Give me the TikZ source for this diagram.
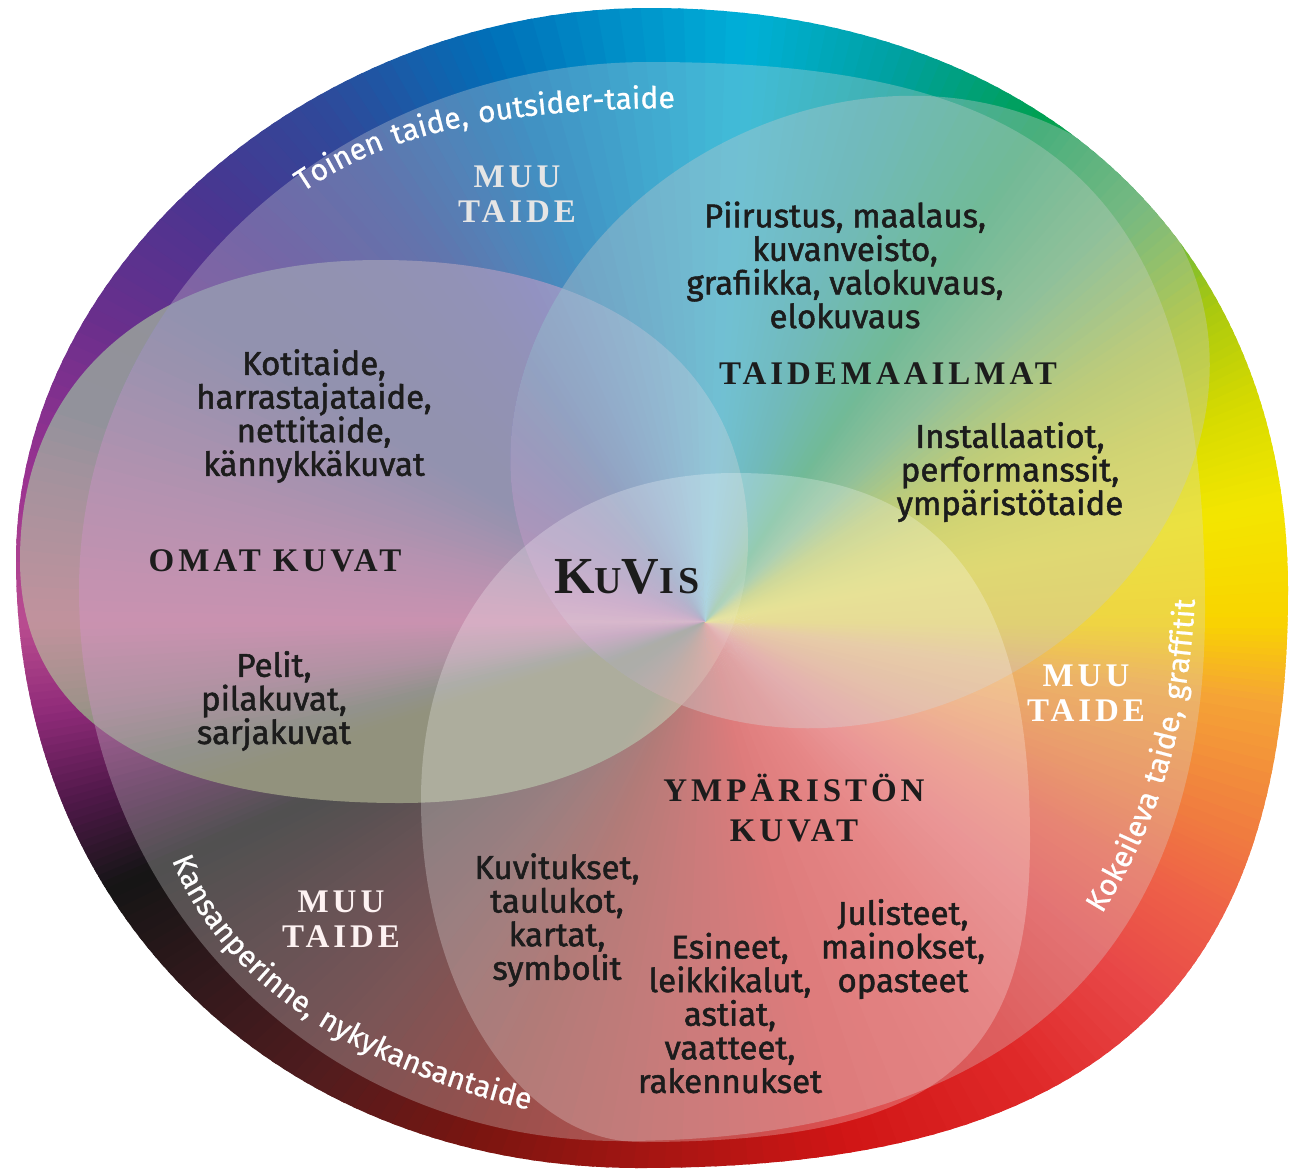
\documentclass[tikz,border=0pt]{standalone}
\usepackage{fontspec}
\setmainfont{Fira Sans}[FakeBold=1.5]
\newfontfamily\headfont{Liberation Serif}[LetterSpace=12]
\newfontfamily\rimfont{Fira Sans}[LetterSpace=8, FakeBold=0.8]
\usetikzlibrary{decorations.text}

\definecolor{ink}{HTML}{1C1C1C}
\definecolor{omatgrey}{HTML}{84846C}
\definecolor{veil}{HTML}{DADADA}
\definecolor{taideveil}{HTML}{C8CACC}
\definecolor{w0}{HTML}{F9D400}
\definecolor{w12}{HTML}{F3E600}
\definecolor{w22}{HTML}{D6DA00}
\definecolor{w32}{HTML}{A8C810}
\definecolor{w44}{HTML}{48B058}
\definecolor{w56}{HTML}{00A050}
\definecolor{w71}{HTML}{00A0A0}
\definecolor{w86}{HTML}{00B0D8}
\definecolor{w110}{HTML}{0070B8}
\definecolor{w126}{HTML}{2E4A9A}
\definecolor{w140}{HTML}{4A3590}
\definecolor{w154}{HTML}{6B2F8C}
\definecolor{w168}{HTML}{9A3290}
\definecolor{w180}{HTML}{BA4C90}
\definecolor{w188}{HTML}{8E2A78}
\definecolor{w196}{HTML}{4E1848}
\definecolor{w204}{HTML}{151515}
\definecolor{w216}{HTML}{33191C}
\definecolor{w230}{HTML}{521C1E}
\definecolor{w246}{HTML}{7A1510}
\definecolor{w264}{HTML}{A51512}
\definecolor{w285}{HTML}{D01515}
\definecolor{w306}{HTML}{E02A2A}
\definecolor{w320}{HTML}{E84848}
\definecolor{w330}{HTML}{EE6048}
\definecolor{w338}{HTML}{F07A40}
\definecolor{w352}{HTML}{F5A535}

\tikzset{
  wheeltext/.style={font=\fontsize{16.5}{16.8}\selectfont, text=ink, align=center, inner sep=0pt},
  areaname/.style={font=\headfont\bfseries\fontsize{16.5}{17.5}\selectfont, text=ink, align=center, inner sep=0pt},
  otherart/.style={areaname, text=#1},
  rimtext/.style={decorate, decoration={text along path, text color=white,
    text={|\rimfont\fontsize{15}{15}\selectfont|#1}}}
}

\begin{document}
\begin{tikzpicture}[x=0.5pt, y=-0.5pt]
\useasboundingbox (0,0) rectangle (1297,1174);
\coordinate (hub) at (705,622);

\begin{scope}
  \clip (650,8) .. controls (1033,8) and (1288,241) .. (1288,590)
    .. controls (1288,995) and (1094,1168) .. (640,1168)
    .. controls (278,1168) and (16,913) .. (16,560)
    .. controls (16,267) and (314,8) .. (650,8) -- cycle;
  \foreach \a/\b/\ca/\cb in {0/12/w0/w12, 12/22/w12/w22, 22/32/w22/w32, 32/44/w32/w44,
      44/56/w44/w56, 56/71/w56/w71, 71/86/w71/w86, 86/110/w86/w110, 110/126/w110/w126,
      126/140/w126/w140, 140/154/w140/w154, 154/168/w154/w168, 168/180/w168/w180,
      180/188/w180/w188, 188/196/w188/w196, 196/204/w196/w204, 204/216/w204/w216,
      216/230/w216/w230, 230/246/w230/w246, 246/264/w246/w264, 264/285/w264/w285,
      285/306/w285/w306, 306/320/w306/w320, 320/330/w320/w330, 330/338/w330/w338,
      338/352/w338/w352, 352/360/w352/w0} {
    \foreach \s in {0,...,11} {
      \pgfmathsetmacro\p{\a+(\b-\a)*\s/12}
      \pgfmathsetmacro\q{\a+(\b-\a)*(\s+1)/12+0.5}
      \pgfmathtruncatemacro\m{(\s+0.5)*100/12}
      \fill[\cb!\m!\ca] (hub) -- +(-\p:1400) -- +(-\q:1400) -- cycle;
    }
  }
  % inner band
  \fill[veil, fill opacity=0.3] (650,62) .. controls (1066,62) and (1205,199) .. (1205,610)
    .. controls (1205,960) and (1006,1141) .. (620,1141)
    .. controls (317,1141) and (79,899) .. (79,590)
    .. controls (79,300) and (336,62) .. (650,62) -- cycle;
  % taidemaailmat
  \fill[taideveil, fill opacity=0.36, shift={(860,412)}, rotate=28]
    (0,0) ellipse [x radius=362, y radius=302];
  % omat kuvat
  \path[save path=\omatline] (380,260) .. controls (608,260) and (748,366) .. (748,540)
    .. controls (748,698) and (609,803) .. (400,803)
    .. controls (153,803) and (20,718) .. (20,560)
    .. controls (20,374) and (157,260) .. (380,260) -- cycle;
  \fill[omatgrey, blend mode=lighten, use path=\omatline];
  \fill[white, fill opacity=0.12, use path=\omatline];
  % ympariston kuvat
  \fill[white, fill opacity=0.25] (735,473) .. controls (936,473) and (1030,580) .. (1030,840)
    .. controls (1030,1067) and (933,1142) .. (640,1142)
    .. controls (520,1142) and (421,988) .. (421,800)
    .. controls (421,604) and (547,473) .. (735,473) -- cycle;
\end{scope}

\node[otherart=black!10] (muutop) at (517,194) {MUU\\TAIDE};
\node[otherart=white] (muuright) at (1086,693) {MUU\\TAIDE};
\node[otherart=black!13!red!5] (muuleft) at (341,919) {MUU\\TAIDE};

\node[areaname] (taidemaailmat) at (888,374) {TAIDEMAAILMAT};
\node[areaname] (omat) at (275,561) {OMAT KUVAT};
\node[areaname] (ymparisto) at (794,808) {YMPÄRISTÖN\\[2.5pt]KUVAT};
\node[areaname, font=\headfont\bfseries] (kuvis) at (627,577)
  {\fontsize{26}{26}\selectfont K\fontsize{19}{19}\selectfont U\fontsize{26}{26}\selectfont V\fontsize{19}{19}\selectfont IS};

\node[wheeltext] (piirustus) at (845,265) {Piirustus, maalaus,\\kuvanveisto,\\grafiikka, valokuvaus,\\elokuvaus};
\node[wheeltext] (installaatiot) at (1010,472) {Installaatiot,\\performanssit,\\ympäristötaide};
\node[wheeltext] (kotitaide) at (314,416) {Kotitaide,\\harrastajataide,\\nettitaide,\\kännykkäkuvat};
\node[wheeltext] (pelit) at (274,701) {Pelit,\\pilakuvat,\\sarjakuvat};
\node[wheeltext] (kuvitukset) at (557,920) {Kuvitukset,\\taulukot,\\kartat,\\symbolit};
\node[wheeltext] (esineet) at (730,1013) {Esineet,\\leikkikalut,\\astiat,\\vaatteet,\\rakennukset};
\node[wheeltext] (julisteet) at (903,949) {Julisteet,\\mainokset,\\opasteet};

\path[rimtext={Toinen taide, outsider-taide}] (303,192) .. controls (380,140) and (480,105) .. (720,108);
\path[rimtext={Kansanperinne, nykykansantaide}] (172,860) .. controls (215,970) and (340,1078) .. (600,1125);
\path[rimtext={Kokeileva taide, graffitit}] (1102,914) .. controls (1160,820) and (1195,720) .. (1197,540);
\end{tikzpicture}
\end{document}
